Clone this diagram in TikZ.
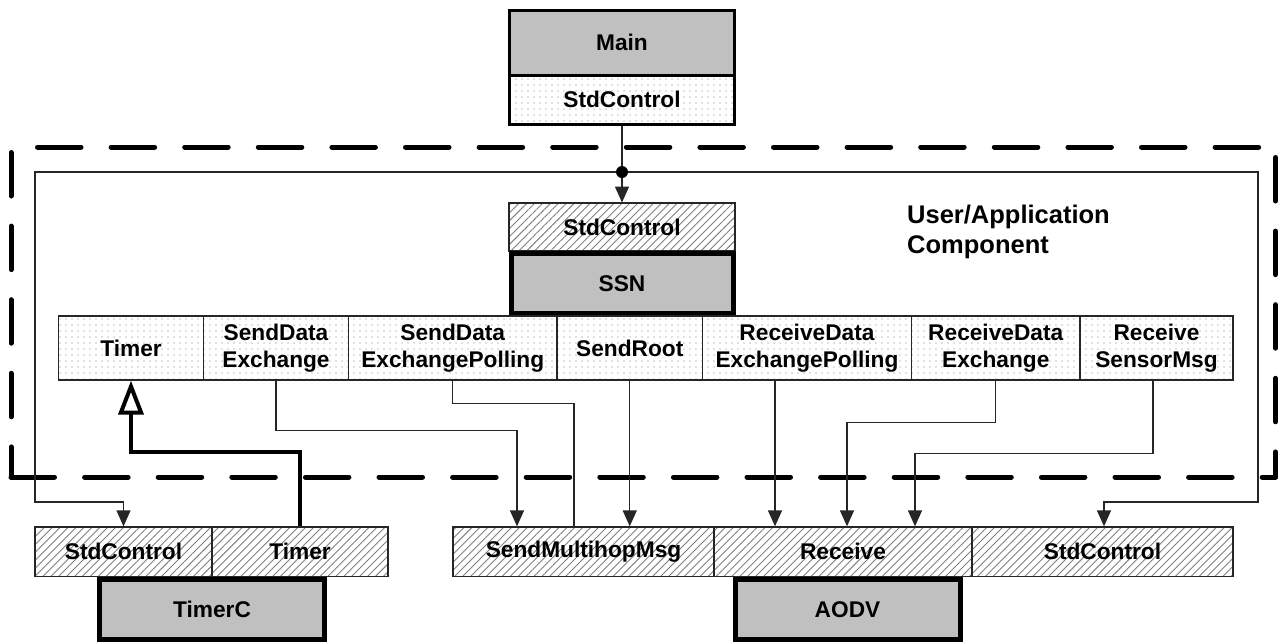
\documentclass[tikz,border=0pt]{standalone}
\usepackage{fontspec}
\setmainfont{Liberation Sans}
\usetikzlibrary{arrows.meta,patterns.meta}
\definecolor{silver}{RGB}{192,192,192}
\begin{document}
\begin{tikzpicture}[x=1pt,y=-1pt,
  lbl/.style={font=\bfseries\fontsize{22.7}{27}\selectfont, align=center, inner sep=0pt},
  dotbox/.style={lbl, draw=black!85, line width=1.3pt, pattern={Dots[distance=6pt,radius=0.7pt]}, pattern color=black!50},
  hatchbox/.style={lbl, draw=black!85, line width=1.3pt, pattern={Lines[angle=45,distance=5.6pt,line width=0.9pt]}, pattern color=black!50},
  compbox/.style={lbl, draw=black, line width=5pt, fill=silver},
  wire/.style={draw=black!85, line width=1.3pt},
  conn/.style={wire, -{Triangle[length=16pt,width=14pt]}},
  bigdash/.style={line width=5pt, line cap=round, dash pattern=on 43.5pt off 30.1pt}
]
\fill[white] (0,0) rectangle (1278,643);
\useasboundingbox (0,0) rectangle (1278,643);

% dashed component boundary
\draw[bigdash] (11,152.5) -- (11,477);
\draw[bigdash] (11,477) -- (1275.5,477);
\draw[bigdash] (1275.5,157.5) -- (1275.5,477);
\draw[bigdash] (37.5,147) -- (1275.5,147);

% Main
\node[dotbox, line width=3pt, draw=black, minimum width=225pt, minimum height=49pt] (mainstd) at (622,99.5) {StdControl};
\node[compbox, line width=3pt, minimum width=225pt, minimum height=65pt] (main) at (622,42.5) {Main};

% SSN
\node[hatchbox, minimum width=226pt, minimum height=48pt] (ssnstd) at (622,227) {StdControl};
\node[compbox, minimum width=222pt, minimum height=60pt] (ssn) at (622,283.5) {SSN};

% interfaces
\node[dotbox, minimum width=145pt, minimum height=64pt] (timer) at (131,348) {Timer};
\node[dotbox, minimum width=145pt, minimum height=64pt] (sdx) at (276,348) {SendData\\Exchange};
\node[dotbox, minimum width=208.5pt, minimum height=64pt] (sdxp) at (452.75,348) {SendData\\ExchangePolling};
\node[dotbox, minimum width=145.5pt, minimum height=64pt] (sroot) at (629.75,348) {SendRoot};
\node[dotbox, minimum width=209pt, minimum height=64pt] (rdxp) at (807,348) {ReceiveData\\ExchangePolling};
\node[dotbox, minimum width=168.5pt, minimum height=64pt] (rdx) at (995.75,348) {ReceiveData\\Exchange};
\node[dotbox, minimum width=153pt, minimum height=64pt] (rsm) at (1156.5,348) {Receive\\SensorMsg};

% title
\node[font=\bfseries\fontsize{25.5}{30}\selectfont, align=left, anchor=west, inner sep=0pt] (title) at (907,232) {User/Application\\Component};

% TimerC
\node[hatchbox, minimum width=177pt, minimum height=49.5pt] (tcstd) at (123.5,551.75) {StdControl};
\node[hatchbox, minimum width=176pt, minimum height=49.5pt] (tctimer) at (300,551.75) {Timer};
\node[compbox, minimum width=225pt, minimum height=60pt] (timerc) at (212,609.5) {TimerC};

% AODV
\node[hatchbox, minimum width=261pt, minimum height=49.5pt] (smm) at (583.5,551.75) {SendMultihopMsg};
\node[hatchbox, minimum width=258pt, minimum height=49.5pt] (recv) at (843,551.75) {Receive};
\node[hatchbox, minimum width=261pt, minimum height=49.5pt] (astd) at (1102.5,551.75) {StdControl};
\node[compbox, minimum width=225pt, minimum height=60pt] (aodv) at (847.5,609.5) {AODV};

% connectors
\draw[conn] (mainstd.south) -- (ssnstd.north);
\draw[conn] (622,172) -- (35,172) -- (35,502) -| (tcstd.north);
\draw[conn] (622,172) -- (1258,172) -- (1258,502) -| ([xshift=1.5pt]astd.north);
\node[circle, fill=black, inner sep=0pt, minimum size=12pt] (jn) at (622,172) {};

\draw[conn] (sdx.south) -- ++(0,50) -| ([xshift=-66.5pt]smm.north);
\draw[wire] (sdxp.south) -- ++(0,23) -| ([xshift=-9.5pt]smm.north);
\draw[conn] (sroot.south) -- (sroot.south |- smm.north);
\draw[conn] ([xshift=-32pt]rdxp.south) -- ([xshift=-32pt]rdxp.south |- recv.north);
\draw[conn] (rdx.south) -- ++(0,42) -| ([xshift=4pt]recv.north);
\draw[conn] ([xshift=-3.5pt]rsm.south) -- ++(0,73) -| ([xshift=72pt]recv.north);

\draw[line width=4pt, -{Triangle[open,length=34pt,width=25pt]}] (tctimer.north) -- ++(0,-74) -| (timer.south);
\end{tikzpicture}
\end{document}
